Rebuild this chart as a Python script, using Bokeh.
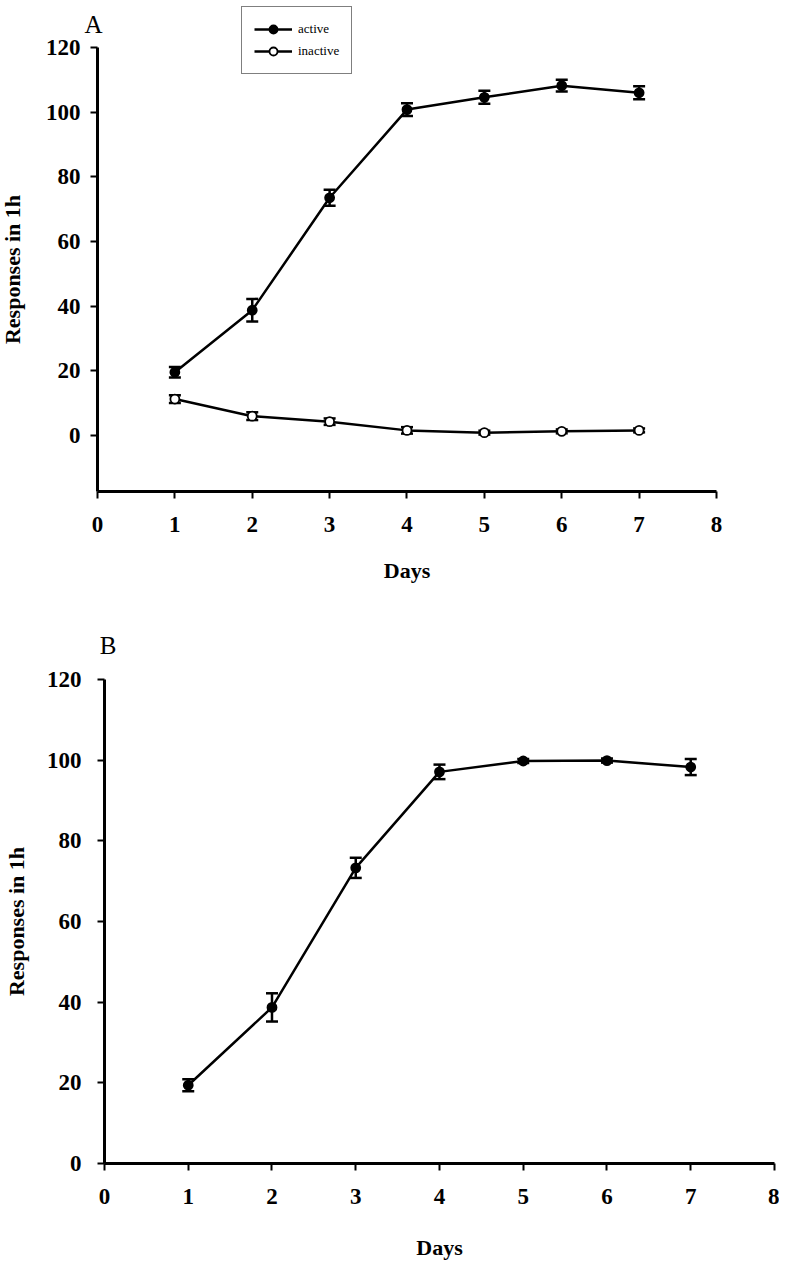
from bokeh.plotting import figure
from bokeh.layouts import column
from bokeh.models import (ColumnDataSource, Whisker, TeeHead, FixedTicker, Range1d,
                          Label, Legend, LegendItem)
from bokeh.embed import file_html
from bokeh.resources import INLINE

days = [1, 2, 3, 4, 5, 6, 7]

# Panel A
a_active = [19.5, 38.7, 73.5, 100.8, 104.6, 108.2, 106.0]
a_active_err = [1.6, 3.5, 2.5, 2.0, 2.0, 1.8, 2.0]
a_inactive = [11.2, 5.9, 4.2, 1.5, 0.8, 1.2, 1.5]
a_inactive_err = [1.2, 1.2, 1.0, 1.0, 0.6, 0.6, 0.6]

# Panel B
b_active = [19.4, 38.7, 73.3, 97.1, 99.8, 99.9, 98.3]
b_active_err = [1.5, 3.5, 2.5, 1.8, 0.5, 0.5, 2.0]

x_ticks = [0, 1, 2, 3, 4, 5, 6, 7, 8]
y_ticks = [0, 20, 40, 60, 80, 100, 120]

SERIF = "Liberation Serif"


def style(p, y_lo, x_label_standoff, y_tick_standoff, y_label_standoff):
    for ax in (p.xaxis, p.yaxis):
        ax.axis_line_width = 3
        ax.axis_line_color = "black"
        ax.major_tick_line_width = 2
        ax.major_tick_line_color = "black"
        ax.major_tick_out = 7
        ax.major_tick_in = 0
        ax.minor_tick_line_color = None
        ax.major_label_text_font = SERIF
        ax.major_label_text_font_style = "bold"
        ax.major_label_text_font_size = "23px"
        ax.major_label_text_color = "black"
        ax.axis_label_text_font = SERIF
        ax.axis_label_text_font_style = "bold"
        ax.axis_label_text_font_size = "22px"
        ax.axis_label_text_color = "black"
    p.xaxis.ticker = FixedTicker(ticks=x_ticks)
    p.yaxis.ticker = FixedTicker(ticks=y_ticks)
    p.xaxis.fixed_location = y_lo
    p.yaxis.fixed_location = 0
    p.xaxis.bounds = (0, 8)
    p.yaxis.bounds = (y_lo, 120)
    p.xaxis.major_label_standoff = 19
    p.yaxis.major_label_standoff = y_tick_standoff
    p.xaxis.axis_label = "Days"
    p.yaxis.axis_label = "Responses in 1h"
    p.xaxis.axis_label_standoff = x_label_standoff
    p.yaxis.axis_label_standoff = y_label_standoff
    p.xgrid.grid_line_color = None
    p.ygrid.grid_line_color = None
    p.outline_line_color = None
    p.background_fill_color = "white"
    p.border_fill_color = "white"


def add_series(p, x, y, err, filled):
    lower = [v - e for v, e in zip(y, err)]
    upper = [v + e for v, e in zip(y, err)]
    src = ColumnDataSource(dict(x=x, y=y, lower=lower, upper=upper))
    w = Whisker(source=src, base="x", lower="lower", upper="upper",
                line_color="black", line_width=2.5,
                upper_head=TeeHead(size=12, line_width=2.5, line_color="black"),
                lower_head=TeeHead(size=12, line_width=2.5, line_color="black"))
    p.add_layout(w)
    ln = p.line("x", "y", source=src, line_color="black", line_width=2.5)
    sc = p.scatter("x", "y", source=src, size=9, marker="circle",
                   fill_color="black" if filled else "white",
                   line_color="black", line_width=1.8)
    return ln, sc


# ---------- Panel A ----------
A_LO = -17.4
pA = figure(width=771, height=600, output_backend="svg", toolbar_location=None,
            x_range=Range1d(-1.2536, 8.711), y_range=Range1d(-51.16, 134.57),
            min_border=0)
style(pA, A_LO, 22, 10, 18)
l1, s1 = add_series(pA, days, a_active, a_active_err, True)
l2, s2 = add_series(pA, days, a_inactive, a_inactive_err, False)

leg = Legend(items=[LegendItem(label="active", renderers=[l1, s1]),
                    LegendItem(label="inactive", renderers=[l2, s2])],
             location=(241, 526), orientation="vertical")
leg.label_text_font = SERIF
leg.label_text_font_size = "13px"
leg.label_text_color = "black"
leg.glyph_width = 38
leg.glyph_height = 20
leg.label_height = 20
leg.label_standoff = 6
leg.spacing = 2
leg.padding = 12
leg.margin = 0
leg.border_line_color = "black"
leg.border_line_width = 1.5
leg.background_fill_alpha = 1
pA.add_layout(leg, "center")

pA.add_layout(Label(x=-0.052, y=127.1, text="A", text_font=SERIF,
                    text_font_size="25px", text_color="black",
                    text_align="center", text_baseline="alphabetic"))

# ---------- Panel B ----------
pB = figure(width=779, height=662, output_backend="svg", toolbar_location=None,
            x_range=Range1d(-1.2418, 8.06), y_range=Range1d(-24.55, 139.59),
            min_border=0)
style(pB, 0, 27, 16, 15)
add_series(pB, days, b_active, b_active_err, True)
pB.add_layout(Label(x=0.042, y=128.4, text="B", text_font=SERIF,
                    text_font_size="25px", text_color="black",
                    text_align="center", text_baseline="alphabetic"))

layout = column(pA, pB, spacing=0)
open("out.html", "w").write(file_html(layout, INLINE))
